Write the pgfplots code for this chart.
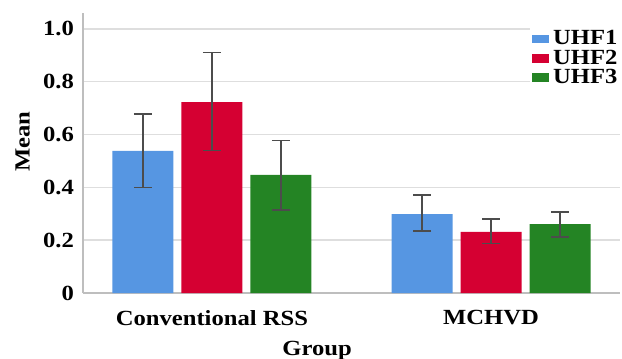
\documentclass[border=0pt]{standalone}
\usepackage{pgfplots}
\pgfplotsset{compat=1.18}
\usepackage{fontspec}
\setmainfont{Liberation Serif}[FakeStretch=1.14]
\definecolor{cblue}{RGB}{86,150,226}
\definecolor{cred}{RGB}{213,0,50}
\definecolor{cgreen}{RGB}{36,132,36}
\definecolor{gridc}{RGB}{222,222,222}
\definecolor{axc}{RGB}{190,190,190}
\begin{document}
\begin{tikzpicture}
\path[use as bounding box] (-41.5pt,-33pt) rectangle (269.5pt,146.5pt);
\begin{axis}[
  at={(0pt,0pt)}, anchor=south west,
  scale only axis, width=268.5pt, height=140pt,
  font=\fontsize{10.8}{12}\selectfont\bfseries,
  ybar=4pt, bar width=30.5pt,
  xmin=-0.462, xmax=1.462, ymin=0, ymax=1.06,
  axis x line*=bottom, axis y line*=left,
  axis line style={axc, line width=0.6pt},
  xtick={0,1}, xticklabels={Conventional RSS, MCHVD},
  ytick={0,0.2,0.4,0.6,0.8,1.0}, yticklabels={0,0.2,0.4,0.6,0.8,1.0},
  major tick length=0pt,
  xticklabel style={yshift=-5pt},
  yticklabel style={xshift=-1pt},
  ymajorgrids, grid style={gridc, line width=0.8pt},
  xlabel={Group}, ylabel={Mean},
  xlabel style={at={(axis description cs:0.436,0)}, anchor=north, yshift=-20.5pt},
  ylabel style={at={(axis description cs:0,0.54)}, anchor=south, yshift=23pt},
  legend style={at={(axis description cs:0.832,0.96)}, anchor=north west,
    fill=white, draw=none, inner sep=1pt, row sep=-3pt,
    font=\fontsize{10.8}{11}\selectfont\bfseries},
  legend cell align=left,
  legend image code/.code={\fill[#1] (0pt,-2pt) rectangle (8.5pt,2.2pt);},
  error bars/error bar style={black!70, line width=0.6pt},
  error bars/error mark options={rotate=90, mark size=4.5pt, black!70, line width=0.6pt},
]
\addplot[fill=cblue, draw=none,
  error bars/.cd, y dir=both, y explicit]
  coordinates {(0,0.538) += (0,0.140) -= (0,0.138) (1,0.299) += (0,0.072) -= (0,0.064)};
\addlegendentry{UHF1}
\addplot[fill=cred, draw=none,
  error bars/.cd, y dir=both, y explicit]
  coordinates {(0,0.723) += (0,0.186) -= (0,0.185) (1,0.231) += (0,0.049) -= (0,0.045)};
\addlegendentry{UHF2}
\addplot[fill=cgreen, draw=none,
  error bars/.cd, y dir=both, y explicit]
  coordinates {(0,0.447) += (0,0.129) -= (0,0.133) (1,0.261) += (0,0.046) -= (0,0.049)};
\addlegendentry{UHF3}
\end{axis}
\end{tikzpicture}
\end{document}
